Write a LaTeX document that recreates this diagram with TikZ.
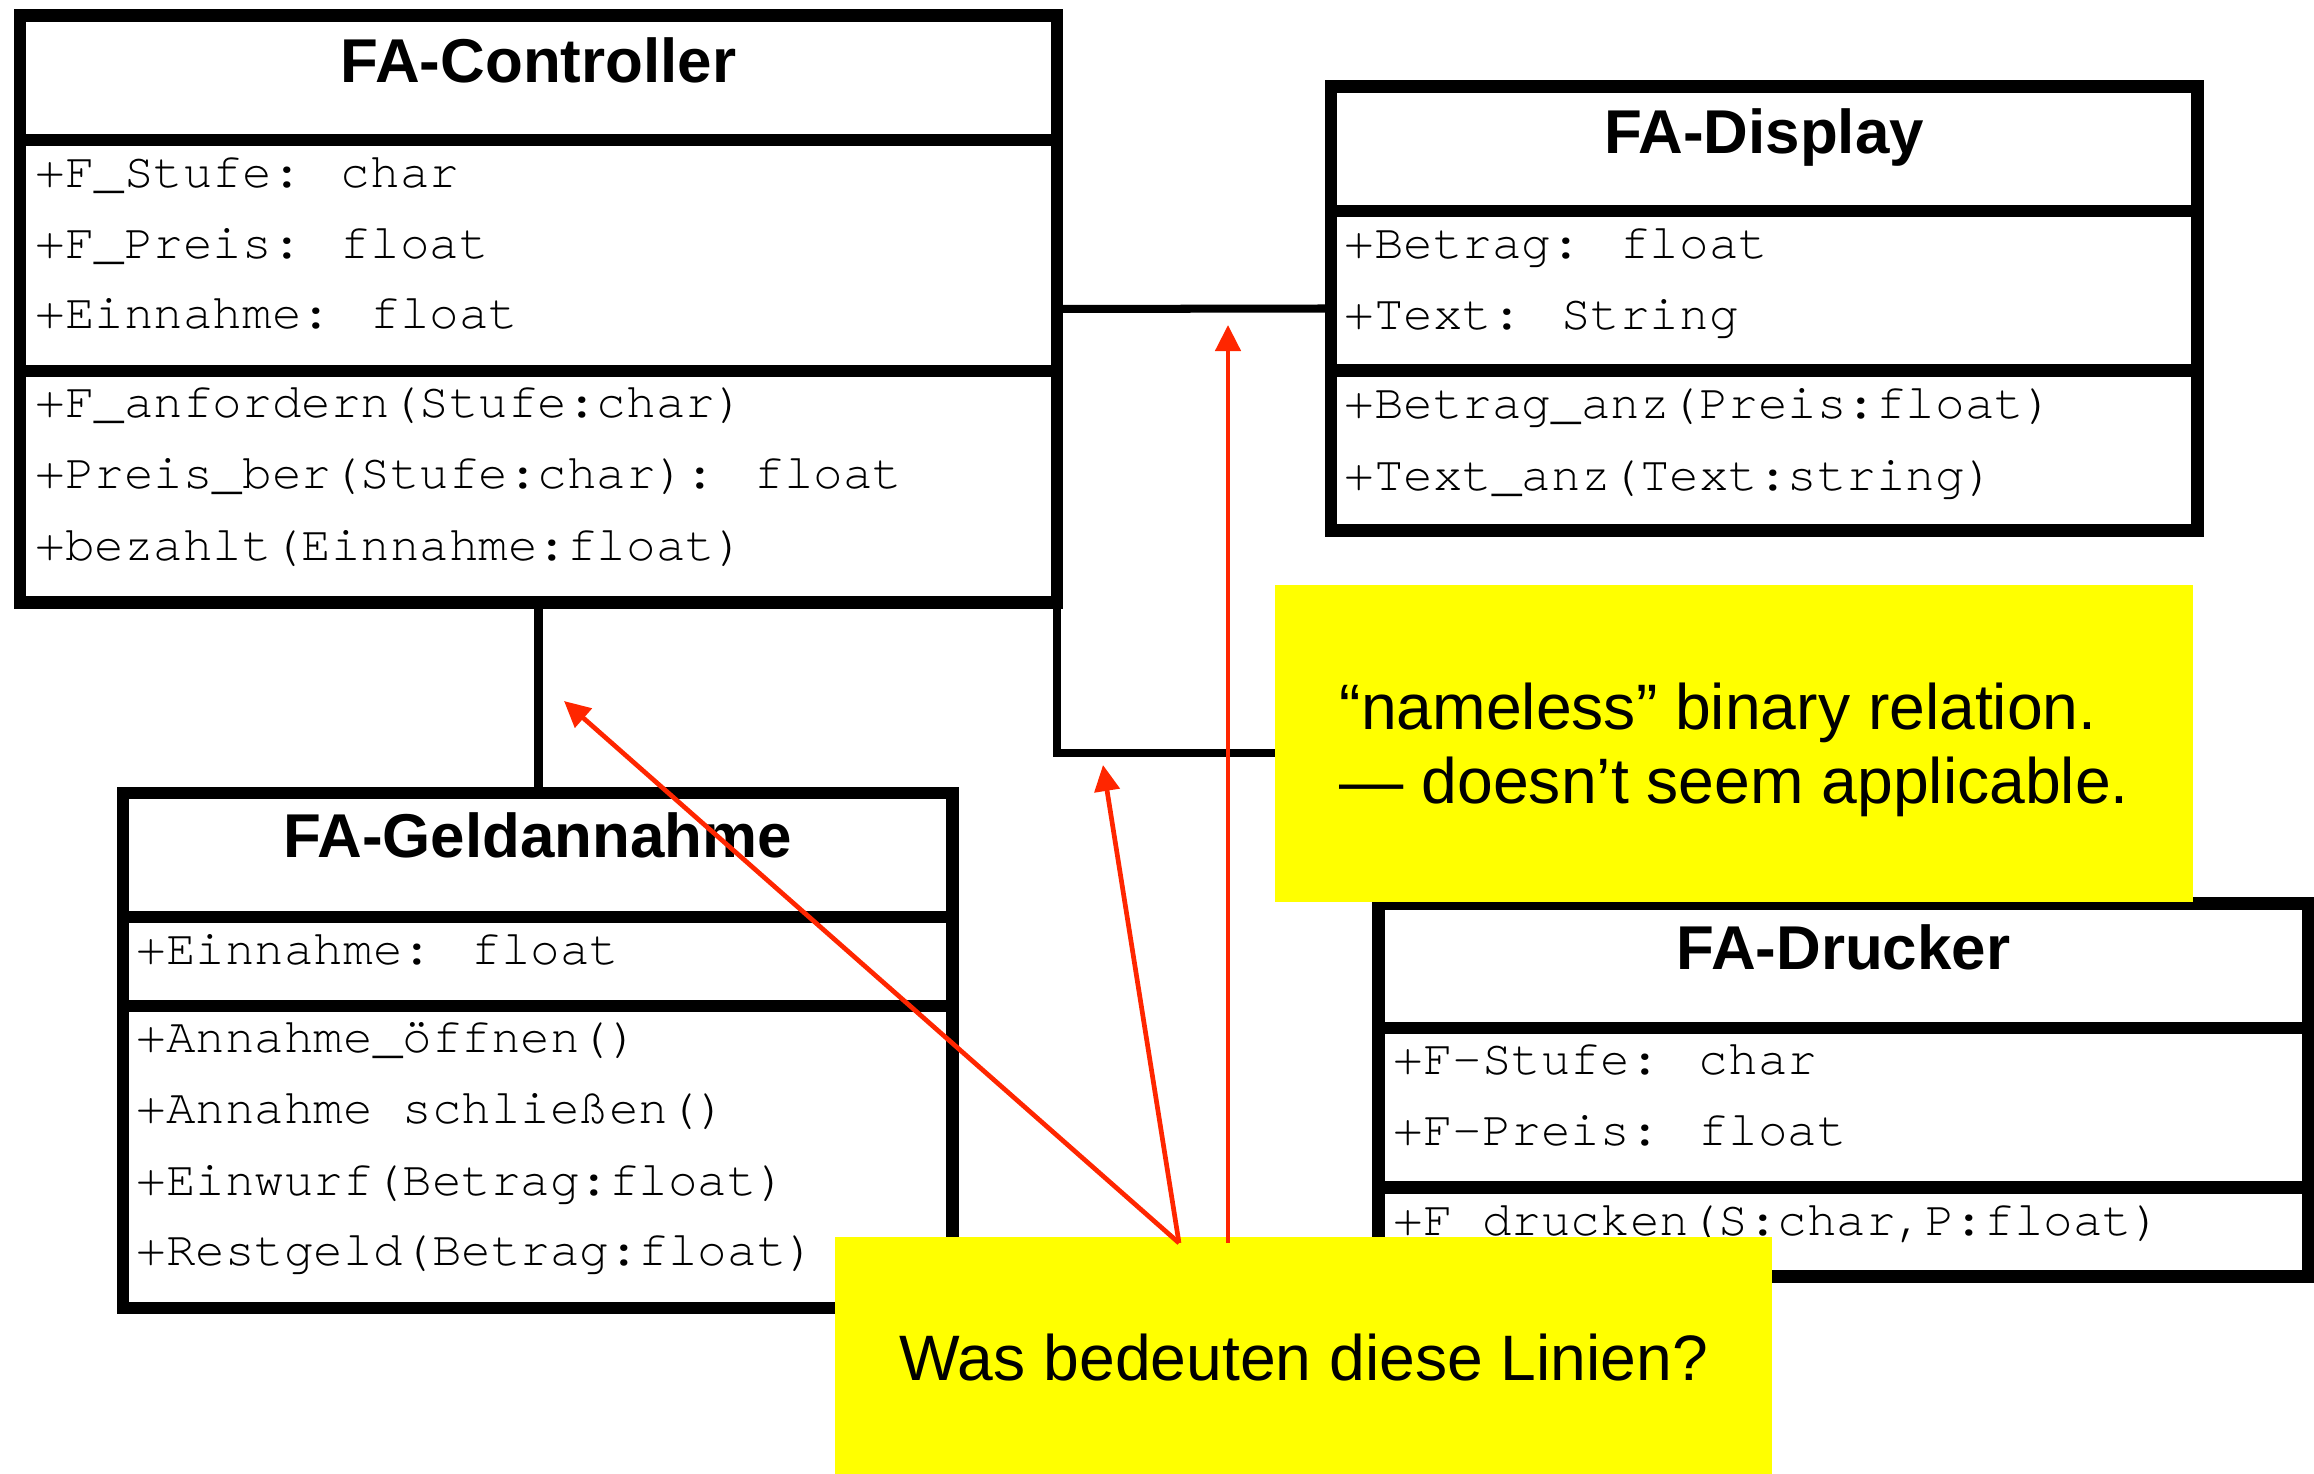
\documentclass[tikz,border=0pt]{standalone}
\usepackage{fontspec}
\setmainfont{Liberation Sans}
\newfontfamily\monofont[Ligatures=CommonOff]{texgyrecursor-regular.otf}
\usetikzlibrary{arrows.meta}
\definecolor{arrowred}{RGB}{255,38,0}
\definecolor{noteyellow}{RGB}{255,255,0}
\begin{document}
\begin{tikzpicture}[x=0.01cm, y=-0.01cm,
  classbox/.style={draw, line width=3.56pt, fill=white, inner sep=0pt, outer sep=0pt},
  divider/.style={line width=3.56pt},
  classtitle/.style={anchor=base, inner sep=0pt, font=\fontsize{17.6pt}{21pt}\selectfont\bfseries},
  member/.style={anchor=base west, inner sep=0pt, font=\fontsize{14pt}{17pt}\selectfont\monofont},
  assoc/.style={line width=2.28pt},
  note/.style={fill=noteyellow, inner sep=0pt, outer sep=0pt},
  notetext/.style={anchor=base west, inner sep=0pt, font=\fontsize{18.27pt}{22pt}\selectfont},
  pointer/.style={color=arrowred, line width=1.34pt, -{Triangle[length=7.4pt,width=7.1pt]}}
]
\useasboundingbox (0,0) rectangle (2314,1474);

% FA-Controller
\node[classbox, minimum width=10.36cm, minimum height=5.87cm] (ctrl) at (538.5,309) {};
\draw[divider] (ctrl.west |- 0,140) -- (ctrl.east |- 0,140);
\draw[divider] (ctrl.west |- 0,371) -- (ctrl.east |- 0,371);
\node[classtitle] (ctrlT) at (538.5,83) {FA-Controller};
\node[member] (c1) at (35,188) {+F\_Stufe: char};
\node[member] (c2) at (35,259) {+F\_Preis: float};
\node[member] (c3) at (35,329) {+Einnahme: float};
\node[member] (c4) at (35,418) {+F\_anfordern(Stufe:char)};
\node[member] (c5) at (35,489) {+Preis\_ber(Stufe:char): float};
\node[member] (c6) at (35,561) {+bezahlt(Einnahme:float)};

% FA-Display
\node[classbox, minimum width=8.66cm, minimum height=4.44cm] (disp) at (1764,308.5) {};
\draw[divider] (disp.west |- 0,211) -- (disp.east |- 0,211);
\draw[divider] (disp.west |- 0,370.5) -- (disp.east |- 0,370.5);
\node[classtitle] (dispT) at (1764,154) {FA-Display};
\node[member] (d1) at (1344,258.6) {+Betrag: float};
\node[member] (d2) at (1344,330) {+Text: String};
\node[member] (d3) at (1344,419) {+Betrag\_anz(Preis:float)};
\node[member] (d4) at (1344,490.6) {+Text\_anz(Text:string)};

% FA-Geldannahme
\node[classbox, minimum width=8.29cm, minimum height=5.15cm] (geld) at (537.5,1050.5) {};
\draw[divider] (geld.west |- 0,917) -- (geld.east |- 0,917);
\draw[divider] (geld.west |- 0,1006) -- (geld.east |- 0,1006);
\node[classtitle] (geldT) at (537.5,858) {FA-Geldannahme};
\node[member] (g1) at (136,965) {+Einnahme: float};
\node[member] (g2) at (136,1053) {+Annahme\_öffnen()};
\node[member] (g3) at (136,1124) {+Annahme schließen()};
\node[member] (g4) at (136,1196) {+Einwurf(Betrag:float)};
\node[member] (g5) at (136,1266) {+Restgeld(Betrag:float)};

% FA-Drucker
\node[classbox, minimum width=9.29cm, minimum height=3.73cm] (druck) at (1843.5,1090) {};
\draw[divider] (druck.west |- 0,1028) -- (druck.east |- 0,1028);
\draw[divider] (druck.west |- 0,1187.5) -- (druck.east |- 0,1187.5);
\node[classtitle] (druckT) at (1843.5,970) {FA-Drucker};
\node[member] (p1) at (1393,1075) {+F-Stufe: char};
\node[member] (p2) at (1393,1146) {+F-Preis: float};
\node[member] (p3) at (1393,1236) {+F\_drucken(S:char,P:float)};

% associations
\draw[assoc] (ctrl.south) -- (ctrl.south |- geld.north);
\draw[assoc] (ctrl.east) -- (disp.west);
\coordinate (kink) at (1843.5,753);
\draw[assoc] (ctrl.south east) |- (kink) -- (druck.north);

% notes
\node[note, minimum width=9.18cm, minimum height=3.17cm] (note1) at (1734,743.5) {};
\node[notetext] (n1a) at (1339,730) {“nameless” binary relation.};
\node[notetext] (n1b) at (1339,804) {— doesn’t seem applicable.};
\node[note, minimum width=9.37cm, minimum height=2.40cm] (note2) at (1303.5,1357) {};
\node[notetext] (n2) at (899,1381) {Was bedeuten diese Linien?};

% red pointers
\coordinate (s1) at (1179,1243);
\coordinate (s2) at (1228,1243);
\coordinate (t1) at (564,701);
\coordinate (t2) at (1103,765);
\coordinate (t3) at (1228,325);
\draw[pointer] (s1) -- (t1);
\draw[pointer] (s1) -- (t2);
\draw[pointer] (s2) -- (t3);
\end{tikzpicture}
\end{document}
